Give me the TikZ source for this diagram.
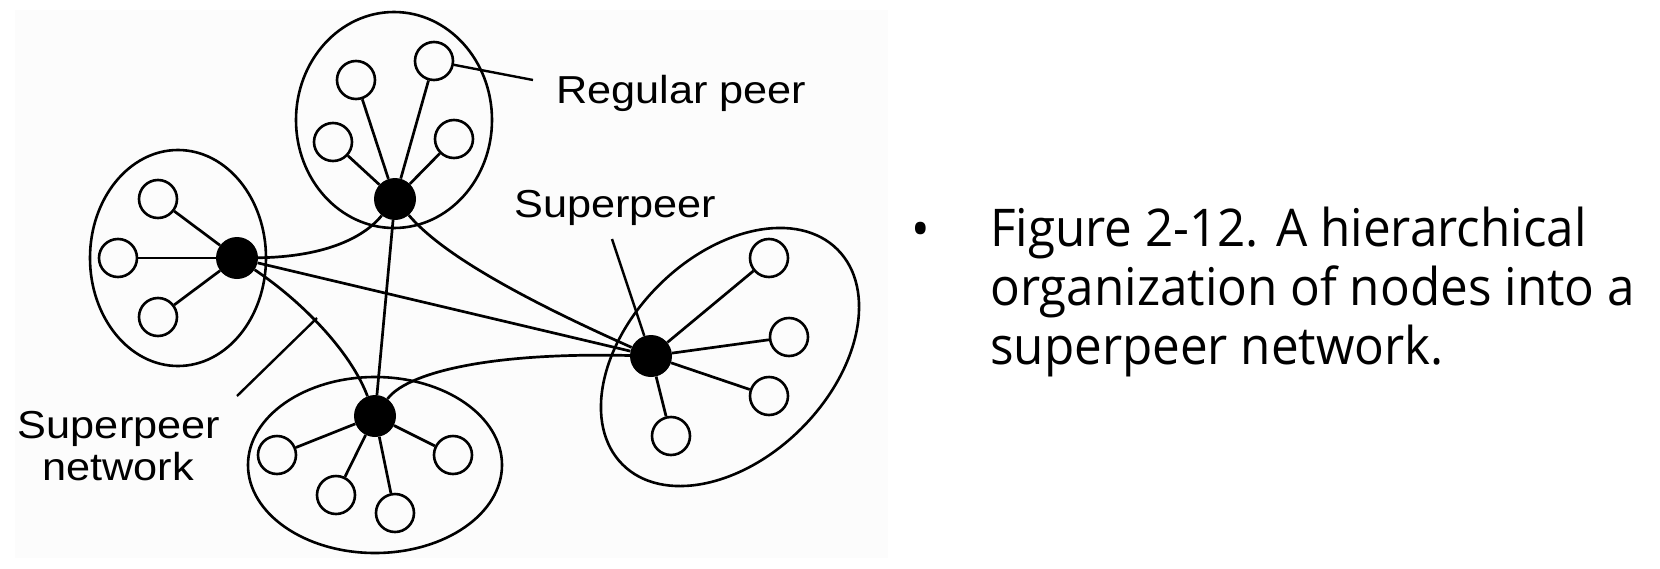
\documentclass[tikz,border=0pt]{standalone}
\usepackage{fontspec}
\usetikzlibrary{shapes.geometric}
\newfontfamily\labfont[FakeStretch=1.11]{Liberation Sans}
\newfontfamily\captfont[FakeStretch=0.95]{Open Sans}
\begin{document}
\begin{tikzpicture}[x=1pt,y=-1pt,
  peer/.style={circle,draw,line width=2.6pt,minimum size=38pt,inner sep=0pt},
  super/.style={circle,fill=black,minimum size=42pt,inner sep=0pt},
  cluster/.style={ellipse,draw,line width=2.6pt,inner sep=0pt},
  link/.style={line width=2.7pt},
  pointer/.style={line width=2.4pt},
  lab/.style={font=\labfont\fontsize{39}{42}\selectfont,inner sep=0pt},
  capt/.style={font=\captfont\fontsize{52}{59}\selectfont,inner sep=0pt}]
\useasboundingbox (0,0) rectangle (1660,568);
\fill[white] (0,0) rectangle (1660,568);
\fill[gray!2] (15,10) rectangle (888,558);

% clusters
\node[cluster,minimum width=196pt,minimum height=216pt] (cT) at (394,120) {};
\node[cluster,minimum width=176pt,minimum height=216pt] (cL) at (178,258) {};
\node[cluster,minimum width=254pt,minimum height=176pt] (cB) at (375,465) {};
\node[cluster,minimum width=304pt,minimum height=202pt,rotate=45] (cR) at (730,357) {};

% superpeers
\node[super] (T) at (395,199) {};
\node[super] (L) at (237,258) {};
\node[super] (B) at (375,416) {};
\node[super] (R) at (651,356) {};

% regular peers
\node[peer] (T1) at (356,80) {};
\node[peer] (T2) at (434,61) {};
\node[peer] (T3) at (333,142) {};
\node[peer] (T4) at (454,139) {};
\node[peer] (L1) at (158,199) {};
\node[peer] (L2) at (118,258) {};
\node[peer] (L3) at (158,317) {};
\node[peer] (B1) at (277,455) {};
\node[peer] (B2) at (336,495) {};
\node[peer] (B3) at (395,513) {};
\node[peer] (B4) at (453,455) {};
\node[peer] (R1) at (769,258) {};
\node[peer] (R2) at (789,337) {};
\node[peer] (R3) at (769,396) {};
\node[peer] (R4) at (671,436) {};

% peer links
\foreach \p in {T1,T2,T3,T4} \draw[link] (T) -- (\p);
\foreach \p in {L1,L2,L3} \draw[link] (L) -- (\p);
\foreach \p in {B1,B2,B3,B4} \draw[link] (B) -- (\p);
\foreach \p in {R1,R2,R3,R4} \draw[link] (R) -- (\p);

% superpeer network
\draw[link] (L) .. controls (320,257) and (362,240) .. (T);
\draw[link] (L) -- (R);
\draw[link] (L) .. controls (300,300) and (350,350) .. (B);
\draw[link] (T) -- (B);
\draw[link] (T) .. controls (430,240) and (480,280) .. (R);
\draw[link] (B) .. controls (405,375) and (480,352) .. (R);

% labels and pointers
\node[lab,anchor=base west] (rpl) at (556,103) {Regular peer};
\coordinate (rpEnd) at (533,80);
\draw[pointer] (T2) -- (rpEnd);
\node[lab,anchor=base west] (spl) at (514,217) {Superpeer};
\coordinate (spEnd) at (612,239);
\draw[pointer] (spEnd) -- (R);
\node[lab,anchor=base] (snl1) at (119,438) {Superpeer};
\node[lab,anchor=base] (snl2) at (118,480) {network};
\coordinate (snA) at (237,396);
\coordinate (snB) at (317,318);
\draw[pointer] (snA) -- (snB);

% caption
\node[capt,anchor=base] (bul) at (921,247) {•};
\node[capt,align=left,anchor=north west] (cap) at (990,207) {Figure 2-12. A hierarchical\\organization of nodes into a\\superpeer network.};
\end{tikzpicture}
\end{document}
